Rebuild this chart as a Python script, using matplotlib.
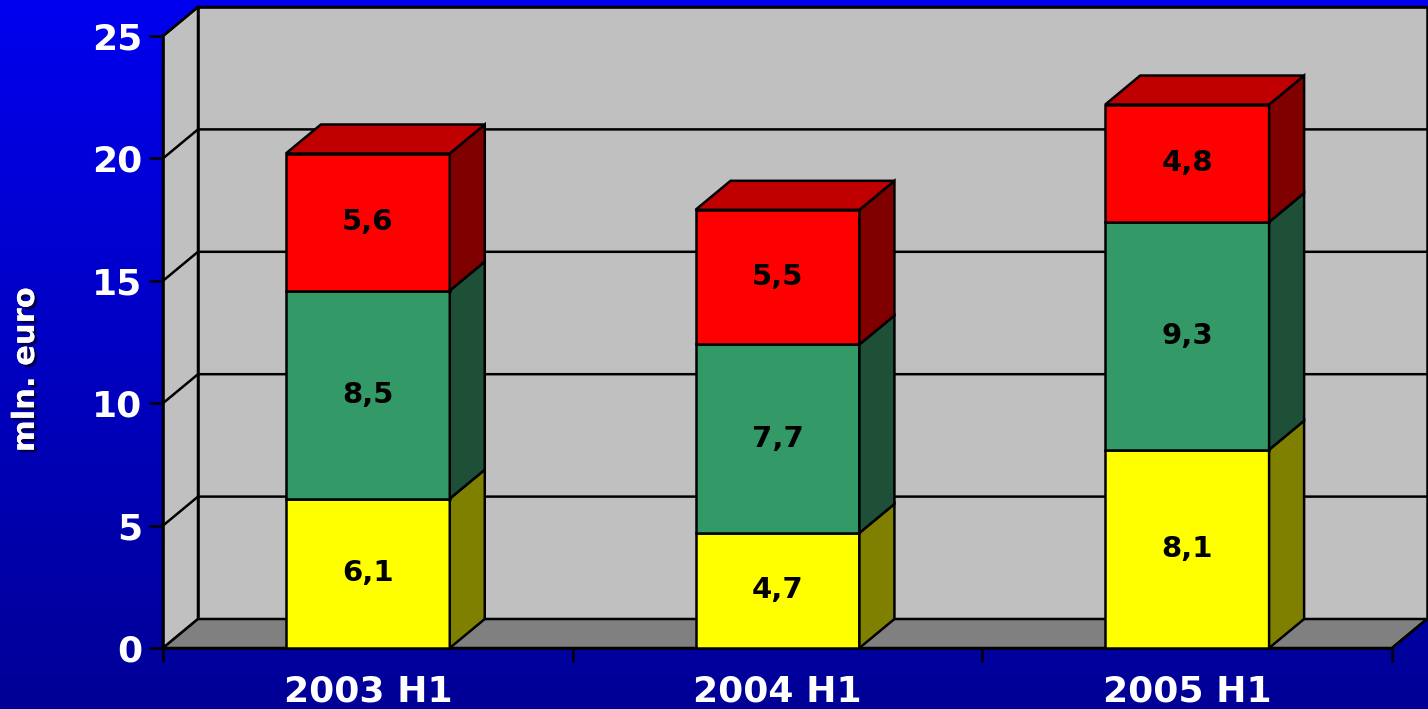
import numpy as np
import matplotlib
matplotlib.use("Agg")
import matplotlib.pyplot as plt
from matplotlib.patches import Polygon
import matplotlib.patheffects as pe

# ---- data ----
categories = ["2003 H1", "2004 H1", "2005 H1"]
yellow_vals = [6.1, 4.7, 8.1]
green_vals = [8.5, 7.7, 9.3]
red_vals = [5.6, 5.5, 4.8]
labels_yellow = ["6,1", "4,7", "8,1"]
labels_green = ["8,5", "7,7", "9,3"]
labels_red = ["5,6", "5,5", "4,8"]
y_ticks = [0, 5, 10, 15, 20, 25]

series = [
    (yellow_vals, labels_yellow, "#FFFF00", "#808000", "#C0C000"),
    (green_vals, labels_green, "#339966", "#1E4F37", "#267350"),
    (red_vals, labels_red, "#FF0000", "#800000", "#C00000"),
]

FONT = "DejaVu Sans"

W, H = 1428, 709
fig = plt.figure(figsize=(W / 100, H / 100), dpi=100)

# background gradient
bg = fig.add_axes([0, 0, 1, 1], zorder=-10)
grad = np.linspace(0, 1, 256)[:, None]
top = np.array([0, 0, 238]) / 255
bot = np.array([0, 0, 150]) / 255
img = top[None, None, :] * (1 - grad[:, :, None]) + bot[None, None, :] * grad[:, :, None]
bg.imshow(img, aspect="auto", extent=[0, 1, 0, 1], origin="upper")
bg.set_axis_off()

# main axes: front plane
x0, x1 = 163, 1392
y0, y1 = 648, 36
ax = fig.add_axes([x0 / W, (H - y0) / H, (x1 - x0) / W, (y0 - y1) / H])
ax.set_xlim(0, 3)
ax.set_ylim(0, 25)
ax.patch.set_alpha(0)
for s in ax.spines.values():
    s.set_visible(False)

# depth offset in data units
dx = 35 / ((x1 - x0) / 3)
dy = 29 / ((y0 - y1) / 25)

lw = 1.8
ymax = 25
# back wall
ax.add_patch(Polygon([(dx, dy), (3 + dx, dy), (3 + dx, ymax + dy), (dx, ymax + dy)],
                     closed=True, facecolor="#C0C0C0", edgecolor="black", lw=lw,
                     clip_on=False, zorder=1))
# left side wall
ax.add_patch(Polygon([(0, 0), (dx, dy), (dx, ymax + dy), (0, ymax)],
                     closed=True, facecolor="#C0C0C0", edgecolor="black", lw=lw,
                     clip_on=False, zorder=1))
# floor
ax.add_patch(Polygon([(0, 0), (3, 0), (3 + dx, dy), (dx, dy)],
                     closed=True, facecolor="#808080", edgecolor="black", lw=lw,
                     clip_on=False, zorder=2))
# gridlines
for t in y_ticks[1:]:
    ax.plot([0, dx, 3 + dx], [t, t + dy, t + dy], color="black", lw=lw,
            clip_on=False, zorder=2, solid_capstyle="butt")

# bars
bw = 0.4
xs = np.arange(len(categories)) + 0.5
z = 5
for i, xc in enumerate(xs):
    L, R = xc - bw / 2, xc + bw / 2
    base = 0
    for k, (vals, labs, fc, sc, tc) in enumerate(series):
        v = vals[i]
        b, t = base, base + v
        ax.add_patch(Polygon([(L, b), (R, b), (R, t), (L, t)], closed=True,
                             facecolor=fc, edgecolor="black", lw=lw, zorder=z, clip_on=False))
        ax.add_patch(Polygon([(R, b), (R + dx, b + dy), (R + dx, t + dy), (R, t)], closed=True,
                             facecolor=sc, edgecolor="black", lw=lw, zorder=z, clip_on=False))
        if k == len(series) - 1:
            ax.add_patch(Polygon([(L, t), (R, t), (R + dx, t + dy), (L + dx, t + dy)], closed=True,
                                 facecolor=tc, edgecolor="black", lw=lw, zorder=z, clip_on=False))
        ax.text(xc, (b + t) / 2, labs[i], ha="center", va="center", fontsize=21,
                fontweight="bold", family=FONT, color="black", zorder=z + 1)
        base = t
        z += 2

# front axis lines
ax.plot([0, 0], [0, ymax], color="black", lw=lw, zorder=3, clip_on=False)
ax.plot([0, 3], [0, 0], color="black", lw=lw, zorder=3, clip_on=False)
ax.plot([3, 3 + dx], [0, dy], color="black", lw=lw, zorder=3, clip_on=False)

# ticks
ax.set_yticks(y_ticks)
ax.set_yticklabels([str(t) for t in y_ticks])
ax.set_xticks([0, 1, 2, 3])
ax.set_xticklabels([])
ax.set_xticks(xs, minor=True)
ax.set_xticklabels(categories, minor=True)
ax.tick_params(axis="y", direction="out", length=10, width=lw, color="black",
               labelcolor="white", labelsize=26, pad=5)
ax.tick_params(axis="x", which="major", direction="out", length=10, width=lw, color="black")
ax.tick_params(axis="x", which="minor", length=0, labelcolor="white", labelsize=26, pad=19)
for lab in ax.get_yticklabels() + ax.get_xticklabels(minor=True):
    lab.set_fontweight("bold")
    lab.set_family(FONT)

ax.set_ylabel("mln. euro", color="white", fontsize=22, fontweight="bold", family=FONT,
              path_effects=[pe.withSimplePatchShadow(offset=(2, -2), shadow_rgbFace="#000040", alpha=0.9),
                            pe.Normal()])
ax.yaxis.set_label_coords((40 - x0) / (x1 - x0), (y0 - 370) / (y0 - y1))

fig.savefig("out.png", dpi=100)
